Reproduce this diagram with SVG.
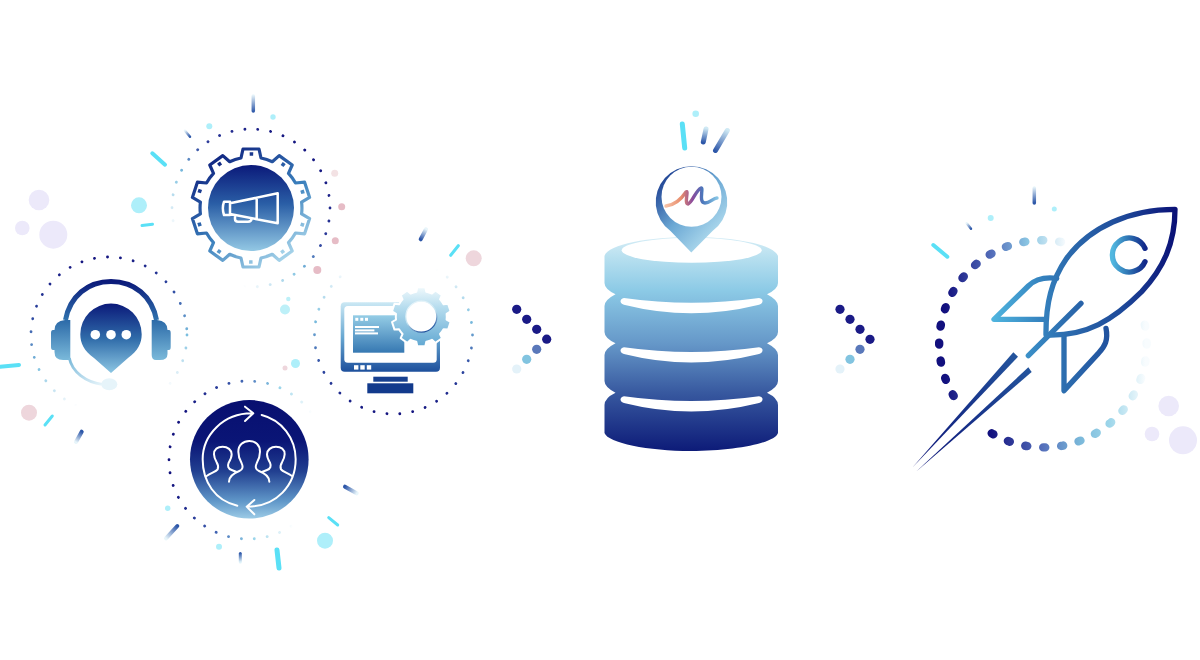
<svg xmlns="http://www.w3.org/2000/svg" xmlns:xlink="http://www.w3.org/1999/xlink" width="1200" height="660" viewBox="0 0 1200 660">
<style>
.ring{fill:none;stroke-width:2.8;stroke-linecap:round;stroke-dasharray:0.1 12.95}
.cy{stroke:#5ae0f6;stroke-linecap:round;fill:none}
.gd{stroke-linecap:round;fill:none}
.pu{fill:#ece9fa}.pk{fill:#eed6dc}.pk2{fill:#e6bcc6}.lc{fill:#aeeffa}
.wl{fill:none;stroke:#fff;stroke-linecap:round;stroke-linejoin:round}
.dot{stroke:none}
.rs{fill:none;stroke:url(#rocketG);stroke-width:16;stroke-linecap:round;stroke-linejoin:round}
.rd{fill:none;stroke-width:8.4;stroke-linecap:round;stroke-dasharray:2 16}
</style>
<defs>
<linearGradient id="r1" x1=".85" y1=".1" x2=".2" y2=".9"><stop offset="0" stop-color="#12127e"/><stop offset=".4" stop-color="#2f3f9c"/><stop offset=".62" stop-color="#7cc0e0"/><stop offset=".92" stop-color="#fff"/></linearGradient>
<linearGradient id="r2" x1=".4" y1="0" x2=".6" y2="1"><stop offset="0" stop-color="#12127e"/><stop offset=".3" stop-color="#2f4aa2"/><stop offset=".6" stop-color="#7cc0e0"/><stop offset=".9" stop-color="#fff"/></linearGradient>
<linearGradient id="r3" x1=".5" y1="1" x2=".5" y2="0"><stop offset="0" stop-color="#12127e"/><stop offset=".3" stop-color="#2f4aa2"/><stop offset=".6" stop-color="#7cc0e0"/><stop offset=".92" stop-color="#fff"/></linearGradient>
<linearGradient id="r4" x1=".05" y1=".45" x2=".95" y2=".6"><stop offset="0" stop-color="#12127e"/><stop offset=".35" stop-color="#3d5fb0"/><stop offset=".6" stop-color="#8fd0e8"/><stop offset=".88" stop-color="#fff"/></linearGradient>
<linearGradient id="disk" x1="0" y1="0" x2="0" y2="1"><stop offset="0" stop-color="#0b1a7a"/><stop offset=".45" stop-color="#2a5ea6"/><stop offset="1" stop-color="#93c8e4"/></linearGradient>
<linearGradient id="gearS" x1=".15" y1="0" x2=".8" y2="1"><stop offset="0" stop-color="#0b1a7a"/><stop offset=".55" stop-color="#3a7fbc"/><stop offset="1" stop-color="#b5dff0"/></linearGradient>
<linearGradient id="team" x1="0" y1="0" x2="0" y2="1"><stop offset="0" stop-color="#080f70"/><stop offset=".35" stop-color="#0a1576"/><stop offset=".6" stop-color="#213f90"/><stop offset=".85" stop-color="#5f96c8"/><stop offset="1" stop-color="#9ccbe6"/></linearGradient>
<linearGradient id="cup" x1="0" y1="0" x2="0" y2="1"><stop offset="0" stop-color="#2c6aa8"/><stop offset="1" stop-color="#7ab9da"/></linearGradient>
<linearGradient id="band" x1="0" y1="0" x2="0" y2="1"><stop offset="0" stop-color="#0b1a7a"/><stop offset="1" stop-color="#2f72ae"/></linearGradient>
<linearGradient id="bub" x1="0" y1="0" x2="0" y2="1"><stop offset="0" stop-color="#0b1a7a"/><stop offset=".5" stop-color="#2f6ba9"/><stop offset="1" stop-color="#8cc6e3"/></linearGradient>
<linearGradient id="mic" x1="0" y1="0" x2="1" y2="1"><stop offset="0" stop-color="#7ab9da"/><stop offset="1" stop-color="#e6f4fa"/></linearGradient>
<linearGradient id="mon" x1="0" y1="0" x2="0" y2="1"><stop offset="0" stop-color="#cbe8f4"/><stop offset=".5" stop-color="#68a8d2"/><stop offset="1" stop-color="#1d4f9c"/></linearGradient>
<linearGradient id="win" x1="0" y1="0" x2="0" y2="1"><stop offset="0" stop-color="#95cde6"/><stop offset="1" stop-color="#3678b2"/></linearGradient>
<linearGradient id="gear2" x1="0" y1="0" x2="0" y2="1"><stop offset="0" stop-color="#f0f9fc"/><stop offset=".35" stop-color="#b5dcee"/><stop offset="1" stop-color="#62a8d2"/></linearGradient>
<linearGradient id="gearRing" x1=".25" y1=".2" x2=".6" y2="1"><stop offset="0" stop-color="#e4f3f9"/><stop offset=".45" stop-color="#bfe0ef"/><stop offset="1" stop-color="#1d4f9c"/></linearGradient>
<linearGradient id="db" x1="0" y1="0" x2="0" y2="1"><stop offset="0" stop-color="#d6edf6"/><stop offset=".1" stop-color="#b6dfef"/><stop offset=".25" stop-color="#8ccae6"/><stop offset=".5" stop-color="#6597c8"/><stop offset=".73" stop-color="#37589f"/><stop offset="1" stop-color="#0d1b78"/></linearGradient>
<linearGradient id="pin" x1=".1" y1=".1" x2=".8" y2=".9"><stop offset="0" stop-color="#1d3f92"/><stop offset=".5" stop-color="#6ba8d4"/><stop offset="1" stop-color="#b5dff0"/></linearGradient>
<linearGradient id="rib" x1="0" y1="0" x2="1" y2="0"><stop offset="0" stop-color="#f6c0a4"/><stop offset=".3" stop-color="#e88c6c"/><stop offset=".52" stop-color="#8a4a9c"/><stop offset=".72" stop-color="#4a78bc"/><stop offset="1" stop-color="#86c4e4"/></linearGradient>
<linearGradient id="rocketG" gradientUnits="userSpaceOnUse" x1="280" y1="420" x2="830" y2="420"><stop offset="0" stop-color="#4fb4de"/><stop offset=".25" stop-color="#3584c0"/><stop offset=".4" stop-color="#2c6cae"/><stop offset=".7" stop-color="#1e4a9a"/><stop offset="1" stop-color="#0a1076"/></linearGradient>
<linearGradient id="trail" gradientUnits="userSpaceOnUse" x1="40" y1="870" x2="390" y2="530"><stop offset="0" stop-color="#0a1076"/><stop offset="1" stop-color="#25589f"/></linearGradient>
<linearGradient id="cG" x1="0" y1="0" x2="1" y2="0"><stop offset="0" stop-color="#52b8e0"/><stop offset=".5" stop-color="#2d72b2"/><stop offset="1" stop-color="#12288a"/></linearGradient>
<linearGradient id="rd1" gradientUnits="userSpaceOnUse" x1="945" y1="300" x2="1065" y2="300"><stop offset="0" stop-color="#12107e"/><stop offset=".4" stop-color="#5570bb"/><stop offset=".7" stop-color="#8cc8e4"/><stop offset="1" stop-color="#f5fafd"/></linearGradient>
<linearGradient id="rd2" gradientUnits="userSpaceOnUse" x1="990" y1="400" x2="1145" y2="400"><stop offset="0" stop-color="#12107e"/><stop offset=".34" stop-color="#5570bb"/><stop offset=".58" stop-color="#7ab8da"/><stop offset=".77" stop-color="#9dd6ea"/><stop offset="1" stop-color="#f8fcfe"/></linearGradient>
<linearGradient id="g1" gradientUnits="userSpaceOnUse" x1="253.3" y1="112" x2="253.3" y2="95"><stop offset="0" stop-color="#2c56a8"/><stop offset="1" stop-color="#e8f5fa"/></linearGradient>
<linearGradient id="g2" gradientUnits="userSpaceOnUse" x1="190" y1="136.7" x2="185" y2="130.7"><stop offset="0" stop-color="#2c56a8"/><stop offset="1" stop-color="#e8f5fa"/></linearGradient>
<linearGradient id="g3" gradientUnits="userSpaceOnUse" x1="420.7" y1="239.3" x2="426" y2="229.3"><stop offset="0" stop-color="#2c56a8"/><stop offset="1" stop-color="#e8f5fa"/></linearGradient>
<linearGradient id="g4" gradientUnits="userSpaceOnUse" x1="81.7" y1="431.7" x2="76" y2="442"><stop offset="0" stop-color="#2c56a8"/><stop offset="1" stop-color="#e8f5fa"/></linearGradient>
<linearGradient id="g5" gradientUnits="userSpaceOnUse" x1="177.3" y1="526" x2="166" y2="538.3"><stop offset="0" stop-color="#2c56a8"/><stop offset="1" stop-color="#e8f5fa"/></linearGradient>
<linearGradient id="g6" gradientUnits="userSpaceOnUse" x1="240.3" y1="562" x2="240.3" y2="553"><stop offset="0" stop-color="#dff2f9"/><stop offset="1" stop-color="#2c56a8"/></linearGradient>
<linearGradient id="g7" gradientUnits="userSpaceOnUse" x1="345" y1="486.7" x2="356.7" y2="493.3"><stop offset="0" stop-color="#2c56a8"/><stop offset="1" stop-color="#e8f5fa"/></linearGradient>
<linearGradient id="g8" gradientUnits="userSpaceOnUse" x1="703.3" y1="142.7" x2="706" y2="128.3"><stop offset="0" stop-color="#2c56a8"/><stop offset="1" stop-color="#cfe9f4"/></linearGradient>
<linearGradient id="g9" gradientUnits="userSpaceOnUse" x1="715" y1="151" x2="727.3" y2="130"><stop offset="0" stop-color="#2c56a8"/><stop offset="1" stop-color="#cfe9f4"/></linearGradient>
<linearGradient id="g10" gradientUnits="userSpaceOnUse" x1="1034.3" y1="203" x2="1034.3" y2="187"><stop offset="0" stop-color="#2c56a8"/><stop offset="1" stop-color="#e8f5fa"/></linearGradient>
<linearGradient id="g11" gradientUnits="userSpaceOnUse" x1="971" y1="228.7" x2="966.7" y2="223.3"><stop offset="0" stop-color="#2c56a8"/><stop offset="1" stop-color="#e8f5fa"/></linearGradient>
<path id="gearP" d="M-10 -50 L-8 -59 L8 -59 L10 -50 A50 50 0 0 1 21.3 -46.3 L28.2 -52.4 L41.2 -43 L37.5 -34.6 A50 50 0 0 1 44.5 -25 L53.6 -25.8 L58.6 -10.6 L50.6 -5.9 A50 50 0 0 1 50.6 5.9 L58.6 10.6 L53.6 25.8 L44.5 25 A50 50 0 0 1 37.5 34.6 L41.2 43 L28.2 52.4 L21.3 46.3 A50 50 0 0 1 10 50 L8 59 L-8 59 L-10 50 A50 50 0 0 1 -21.3 46.3 L-28.2 52.4 L-41.2 43 L-37.5 34.6 A50 50 0 0 1 -44.5 25 L-53.6 25.8 L-58.6 10.6 L-50.6 5.9 A50 50 0 0 1 -50.6 -5.9 L-58.6 -10.6 L-53.6 -25.8 L-44.5 -25 A50 50 0 0 1 -37.5 -34.6 L-41.2 -43 L-28.2 -52.4 L-21.3 -46.3 A50 50 0 0 1 -10 -50 Z"/>
<path id="crescent" d="M624 298Q691 307.5 759 298Q763 298.5 762.5 301.5Q762 304 758 305Q691 321.5 625 305Q621 304 620.5 301.5Q620.5 298.5 624 298Z"/>
<path id="person" d="M170 318C185 308 198 305 203 298C206 290 204 283 200 277C195 268 192 258 192 253C192 238 203 230 218 230C233 230 245 240 245 253C245 262 241 270 236 278C232 288 234 296 245 300L260 306"/>
</defs>

<g id="decor">
<circle class="pu" cx="39" cy="200" r="10.3"/><circle class="pu" cx="22.3" cy="228" r="7.3"/><circle class="pu" cx="53.3" cy="234.7" r="14"/>
<circle class="lc" cx="139" cy="205.3" r="8"/>
<path class="cy" stroke-width="3" d="M142 225.6L152.5 224.2"/>
<path class="gd" stroke="url(#g1)" stroke-width="3.5" d="M253.3 96V111"/>
<circle class="lc" cx="273" cy="117" r="2.7"/><circle class="lc" cx="209.3" cy="126.3" r="3"/>
<path class="gd" stroke="url(#g2)" stroke-width="2.5" d="M185 130.7L190 136.7"/>
<path class="cy" stroke-width="4" d="M152.3 153.3L165 164.7"/>
<circle cx="334.7" cy="173.3" r="3.5" fill="#f3e2e4"/><circle class="pk2" cx="341.7" cy="206.7" r="3.5"/><circle class="pk2" cx="335.3" cy="240.7" r="3.5"/><circle class="pk2" cx="317.3" cy="270" r="4"/>
<circle cx="288.3" cy="299" r="2.2" fill="#bdf0f8"/><circle cx="285" cy="309.5" r="5" fill="#bdf0f8"/><circle class="lc" cx="295.5" cy="363.5" r="4.5"/><circle class="pk" cx="285" cy="368" r="2.5"/>
<circle class="pk" cx="473.7" cy="258.3" r="8"/>
<path class="cy" stroke-width="3" d="M450.7 255.3L458.3 245.7"/>
<path class="gd" stroke="url(#g3)" stroke-width="4" d="M420.7 239.3L426 229.3"/>
<path class="cy" stroke-width="4" d="M0 366.7L19 364.9"/>
<circle class="pk" cx="29" cy="412.7" r="8"/>
<path class="cy" stroke-width="3" d="M45 425L52.3 416"/>
<path class="gd" stroke="url(#g4)" stroke-width="4" d="M81.7 431.7L76 442"/>
<circle class="lc" cx="167.7" cy="508.3" r="2.7"/>
<path class="gd" stroke="url(#g5)" stroke-width="4" d="M177.3 526L166 538.3"/>
<circle class="lc" cx="219" cy="546.7" r="3"/>
<path class="gd" stroke="url(#g6)" stroke-width="3" d="M240.3 553.5V562"/>
<path class="cy" stroke-width="5" d="M277 550L279 568"/>
<circle class="lc" cx="325" cy="540.7" r="8"/>
<path class="cy" stroke-width="3" d="M328.7 517.7L337.7 525"/>
<path class="gd" stroke="url(#g7)" stroke-width="4" d="M345 486.7L356.7 493.3"/>
<circle class="lc" cx="695.7" cy="113.7" r="3.3"/>
<path class="cy" stroke-width="5" d="M682.3 124L684.7 148"/>
<path class="gd" stroke="url(#g8)" stroke-width="5" d="M706 129L703.3 142"/>
<path class="gd" stroke="url(#g9)" stroke-width="5" d="M727.3 130.5L715.5 150.5"/>
<path class="gd" stroke="url(#g10)" stroke-width="3.5" d="M1034.3 188V203"/>
<circle class="lc" cx="1054.3" cy="209" r="2.5"/><circle class="lc" cx="990.7" cy="218" r="3"/>
<path class="gd" stroke="url(#g11)" stroke-width="2.5" d="M966.7 223.3L971 228.7"/>
<path class="cy" stroke-width="4" d="M933.3 245L947.3 256.7"/>
<circle class="pu" cx="1168.7" cy="406" r="10.3"/><circle class="pu" cx="1152" cy="434" r="7.3"/><circle class="pu" cx="1183" cy="440.3" r="14"/>
</g>

<g id="node-campaign">
<circle class="ring" cx="251" cy="208" r="79" stroke="url(#r1)"/>
<use xlink:href="#gearP" href="#gearP" transform="translate(251 208)" fill="none" stroke="url(#gearS)" stroke-width="3.2" stroke-linejoin="round"/>
<circle cx="251" cy="208" r="54" fill="none" stroke="url(#gearS)" stroke-width="3.6" stroke-dasharray="3.6 30.33" stroke-dashoffset="-15.2"/>
<circle cx="251" cy="208" r="43" fill="url(#disk)"/>
<path class="wl" stroke-width="2.5" d="M230 203.3L277.7 193.3V223.3L230 214Z M256.7 197.9V218.6 M224 201.7H230V215H224Q221.7 208 224 201.7Z M235 215.5V219Q235 221.7 238 221.7H248Q251.5 221.7 251.5 218.8"/>
</g>

<g id="node-support">
<circle class="ring" cx="109" cy="335" r="78" stroke="url(#r2)"/>
<path d="M65.5 320C70 296 88 281.5 111 281.5C134 281.5 152 296 156.5 320" fill="none" stroke="url(#band)" stroke-width="5"/>
<path d="M70.3 320H65Q54.5 321 54.5 330H53Q51 330 51 333V347Q51 350 53 350H54.5V352Q54.5 360 63 360H70.3Z" fill="url(#cup)"/>
<path d="M151.7 320H157Q167.5 321 167.5 330H169Q170.7 330 170.7 333V347Q170.7 350 169 350H167.5V354Q167.5 360 160 360H156Q151.7 360 151.7 355Z" fill="url(#cup)"/>
<path d="M69.3 358C72 372 86 382 102 384.3" fill="none" stroke="url(#mic)" stroke-width="2.8"/>
<ellipse cx="109.3" cy="384.3" rx="8" ry="6" fill="#e6f4fa"/>
<path d="M111 373L94 358C84 351 80.3 343 80.3 334.3A30.7 30.7 0 0 1 141.7 334.3C141.7 343 138 351 128 358Z" fill="url(#bub)"/>
<circle cx="95.3" cy="334.7" r="4.8" fill="#fff"/><circle cx="111" cy="334.7" r="4.8" fill="#fff"/><circle cx="126.3" cy="334.7" r="4.8" fill="#fff"/>
</g>

<g id="node-monitor">
<circle class="ring" cx="393.5" cy="335" r="79" stroke="url(#r3)"/>
<rect x="340.7" y="302.3" width="99.3" height="69.4" rx="4" fill="url(#mon)"/>
<rect x="344.3" y="306" width="92.4" height="56.7" rx="3.5" fill="#fff"/>
<rect x="353" y="315.3" width="51.3" height="37.4" fill="url(#win)"/>
<g fill="#fff"><rect x="355.3" y="317.8" width="3" height="3"/><rect x="360.3" y="317.8" width="3" height="3"/><rect x="365" y="317.8" width="3" height="3"/>
<rect x="355" y="326" width="24" height="2"/><rect x="355" y="329.4" width="19.4" height="2"/><rect x="355" y="332.4" width="23" height="2"/>
<rect x="354" y="365.2" width="4.4" height="4.4"/><rect x="360.3" y="365.2" width="4.4" height="4.4"/><rect x="366.8" y="365.2" width="4.4" height="4.4"/></g>
<rect x="373.3" y="376.7" width="34.4" height="5" fill="#17408f"/>
<rect x="367.3" y="383.3" width="46" height="10" fill="#123a8c"/>
<use xlink:href="#gearP" href="#gearP" transform="translate(421.3 316.7) scale(.5)" fill="url(#gear2)" stroke="#fff" stroke-width="4" stroke-linejoin="round"/>
<circle cx="421.3" cy="316.7" r="15.5" fill="#fff" stroke="url(#gearRing)" stroke-width="1.2"/>
</g>

<g id="node-team">
<circle class="ring" cx="248" cy="460" r="79" stroke="url(#r4)"/>
<circle cx="249.3" cy="459.3" r="59.3" fill="url(#team)"/>
<g transform="translate(150 370) scale(.33333)" class="wl" stroke-width="6">
<path d="M262 407C195 392 158 335 158 268C158 195 220 130 305 130M285 110L310 130L285 153"/>
<path d="M335 135C395 150 437 205 437 268C437 345 380 410 292 410M313 390L290 410L313 433"/>
<path d="M237 335C237 318 250 310 268 303C278 299 280 290 275 280C268 268 265 255 265 245C265 225 280 213 298 213C316 213 330 225 330 245C330 255 327 268 320 280C315 290 317 299 327 303C345 310 358 318 358 335"/>
<use xlink:href="#person" href="#person"/>
<use xlink:href="#person" href="#person" transform="translate(596 0) scale(-1 1)"/>
</g>
</g>

<g id="connectors">
<g class="dot">
<circle cx="516.7" cy="309.3" r="4.6" fill="#1a1a86"/><circle cx="526.7" cy="319.3" r="4.6" fill="#1a1a86"/><circle cx="536.7" cy="329.3" r="4.6" fill="#1a1a86"/><circle cx="546.7" cy="339.2" r="4.6" fill="#1a1a86"/><circle cx="536.7" cy="349.3" r="4.6" fill="#5a78ba"/><circle cx="526.7" cy="359.3" r="4.6" fill="#82c4e0"/><circle cx="516.7" cy="369" r="4.6" fill="#e4f2f9"/>
<circle cx="840" cy="309.3" r="4.6" fill="#1a1a86"/><circle cx="850" cy="319.3" r="4.6" fill="#1a1a86"/><circle cx="860" cy="329.3" r="4.6" fill="#1a1a86"/><circle cx="870" cy="339.3" r="4.6" fill="#1a1a86"/><circle cx="860" cy="349.3" r="4.6" fill="#5a78ba"/><circle cx="850" cy="359.3" r="4.6" fill="#82c4e0"/><circle cx="840" cy="369" r="4.6" fill="#e4f2f9"/>
</g>
</g>

<g id="node-database">
<path fill="url(#db)" d="M604.5 256C608 244 650 237 691 237C733 237 774 244 778 256V283Q778 289 767 294.3Q778 300 778 306V332Q778 338 767 343.3Q778 349 778 355V381Q778 387 767 392.7Q778 398 778 405V433C775 443 735 451 691 451C648 451 608 443 604.5 433V405Q604.5 398 615.5 392.7Q604.5 387 604.5 381V355Q604.5 349 615.5 343.3Q604.5 338 604.5 332V306Q604.5 300 615.5 294.3Q604.5 289 604.5 283Z"/>
<ellipse cx="691.7" cy="250.3" rx="70" ry="12.5" fill="#fff"/>
<g fill="#fff"><use xlink:href="#crescent" href="#crescent"/><use xlink:href="#crescent" href="#crescent" y="49.3"/><use xlink:href="#crescent" href="#crescent" y="98.3"/></g>
<path d="M691.3 252.5L670.5 231A35.8 35.8 0 1 1 712.5 231Z" fill="url(#pin)"/>
<circle cx="691.5" cy="196.7" r="30" fill="#fff"/>
<path d="M666 206C675 205 682 198 686 192C689 189 684 204 688 204C692 203 696 190 701 188C704 187 698 203 705 203C710 203 713 198 717 198" fill="none" stroke="url(#rib)" stroke-width="3.4" stroke-linecap="round" stroke-linejoin="round"/>
</g>

<g id="node-rocket">
<path class="rd" stroke="url(#rd1)" d="M953.7 396A103 103 0 0 1 1061 242"/>
<path class="rd" stroke="url(#rd2)" d="M991.7 433.3A103 103 0 0 0 1144.5 323"/>
<g transform="translate(900 180) scale(.33333)">
<path class="rs" d="M470 295C430 290 405 298 385 318L282 418H435"/>
<path class="rs" d="M618 445C625 480 615 500 595 520L492 632V470"/>
<path class="rs" d="M825 88C690 88 570 140 500 235C455 300 437 370 438 465C560 470 640 420 725 335C790 265 825 190 825 88Z"/>
<path class="rs" d="M543 370L385 527"/>
<path d="M340 517L354 530L38 862Z" fill="url(#trail)"/>
<path d="M385 562L395 576L48 875Z" fill="url(#trail)"/>
<path d="M735 205A51 51 0 1 0 735 245" fill="none" stroke="url(#cG)" stroke-width="16" stroke-linecap="round"/>
</g>
</g>
</svg>
